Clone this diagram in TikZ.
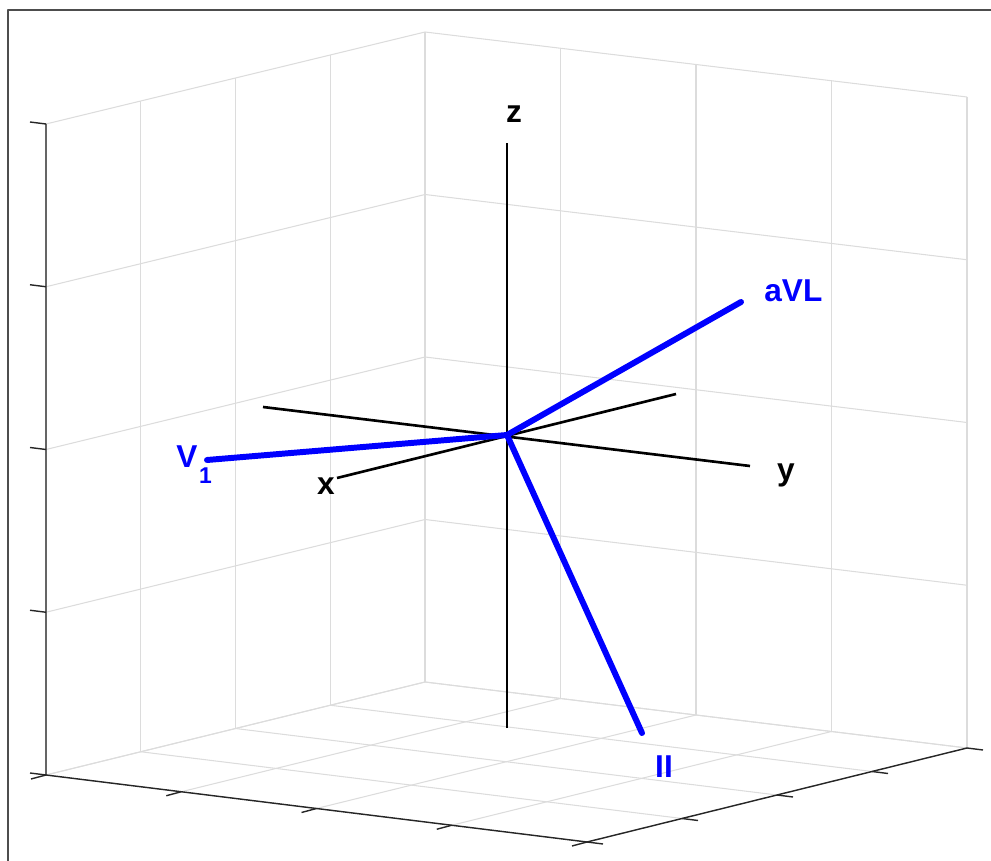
\documentclass[tikz,border=0pt]{standalone}
\usepackage{fontspec}
\setmainfont{Liberation Sans}
\usetikzlibrary{calc}
\definecolor{Grid}{HTML}{DCDCDC}
\definecolor{Box}{HTML}{262626}
\definecolor{Frame}{HTML}{4D4D4D}
\definecolor{Lead}{HTML}{0000FF}

\begin{document}
\begin{tikzpicture}[x=0.02cm,y=-0.02cm,line join=round,
    grid/.style={Grid,line width=0.6pt},
    box/.style={Box,line width=0.8pt},
    ax/.style={black,line width=1.5pt},
    lead/.style={Lead,line width=3.4pt,line cap=round},
    lbl/.style={font=\fontsize{18}{21}\selectfont\bfseries,inner sep=0pt}]
  \useasboundingbox (0,0) rectangle (991,861);
  \draw[Frame,line width=1.3pt] (8,861) -- (8,10) -- (991,10);
  \coordinate (B) at (425,682);
  \coordinate (L) at (46,775);
  \coordinate (R) at (967,748);
  \coordinate (F) at (587,842);
  \coordinate (Bt) at (425,32);
  \coordinate (Lt) at (46,124);
  \coordinate (Rt) at (967,97);
  \foreach \t in {0,0.25,0.5,0.75,1} {
    \draw[grid] ($(B)!\t!(L)$) -- ($(Bt)!\t!(Lt)$);
    \draw[grid] ($(B)!\t!(R)$) -- ($(Bt)!\t!(Rt)$);
    \draw[grid] ($(L)!\t!(Lt)$) -- ($(B)!\t!(Bt)$) -- ($(R)!\t!(Rt)$);
    \draw[grid] ($(B)!\t!(L)$) -- ($(R)!\t!(F)$);
    \draw[grid] ($(B)!\t!(R)$) -- ($(L)!\t!(F)$);
  }
  \draw[box] (Lt) -- (L) -- (F) -- (R);
  \foreach \t in {0,0.25,0.5,0.75,1} {
    \draw[box] ($(L)!\t!(F)$) -- ++(-15,4);
    \draw[box] ($(F)!\t!(R)$) -- ++(16,2);
    \draw[box] ($(L)!\t!(Lt)$) -- ++(-16,-2);
  }

  \coordinate (O) at (507,435);
  \coordinate (zt) at (507,143);
  \coordinate (zb) at (507,728);
  \coordinate (yl) at (263,407);
  \coordinate (yr) at (750,466);
  \coordinate (xf) at (337,478);
  \coordinate (xb) at (676,394);
  \draw[ax] (zb) -- (zt);
  \draw[ax] (yl) -- (yr);
  \draw[ax] (xb) -- (xf);
  \node[lbl,anchor=base] (z) at (514,123) {z};
  \node[lbl,anchor=base] (y) at (786,480) {y};
  \node[lbl,anchor=base] (x) at (326,495) {x};

  \coordinate (v1) at (207,460);
  \coordinate (avl) at (741,302);
  \coordinate (ii) at (642,733);
  \draw[lead] (O) -- (v1);
  \draw[lead] (O) -- (avl);
  \draw[lead] (O) -- (ii);
  \node[lbl,Lead,anchor=base west] (v1lbl) at (176,468) {V\kern1pt\raisebox{-9pt}{\fontsize{13}{15}\selectfont 1}};
  \node[lbl,Lead,anchor=base west] (avllbl) at (764,302) {aVL};
  \node[lbl,Lead,anchor=base] (iilbl) at (664,777) {II};
\end{tikzpicture}
\end{document}
